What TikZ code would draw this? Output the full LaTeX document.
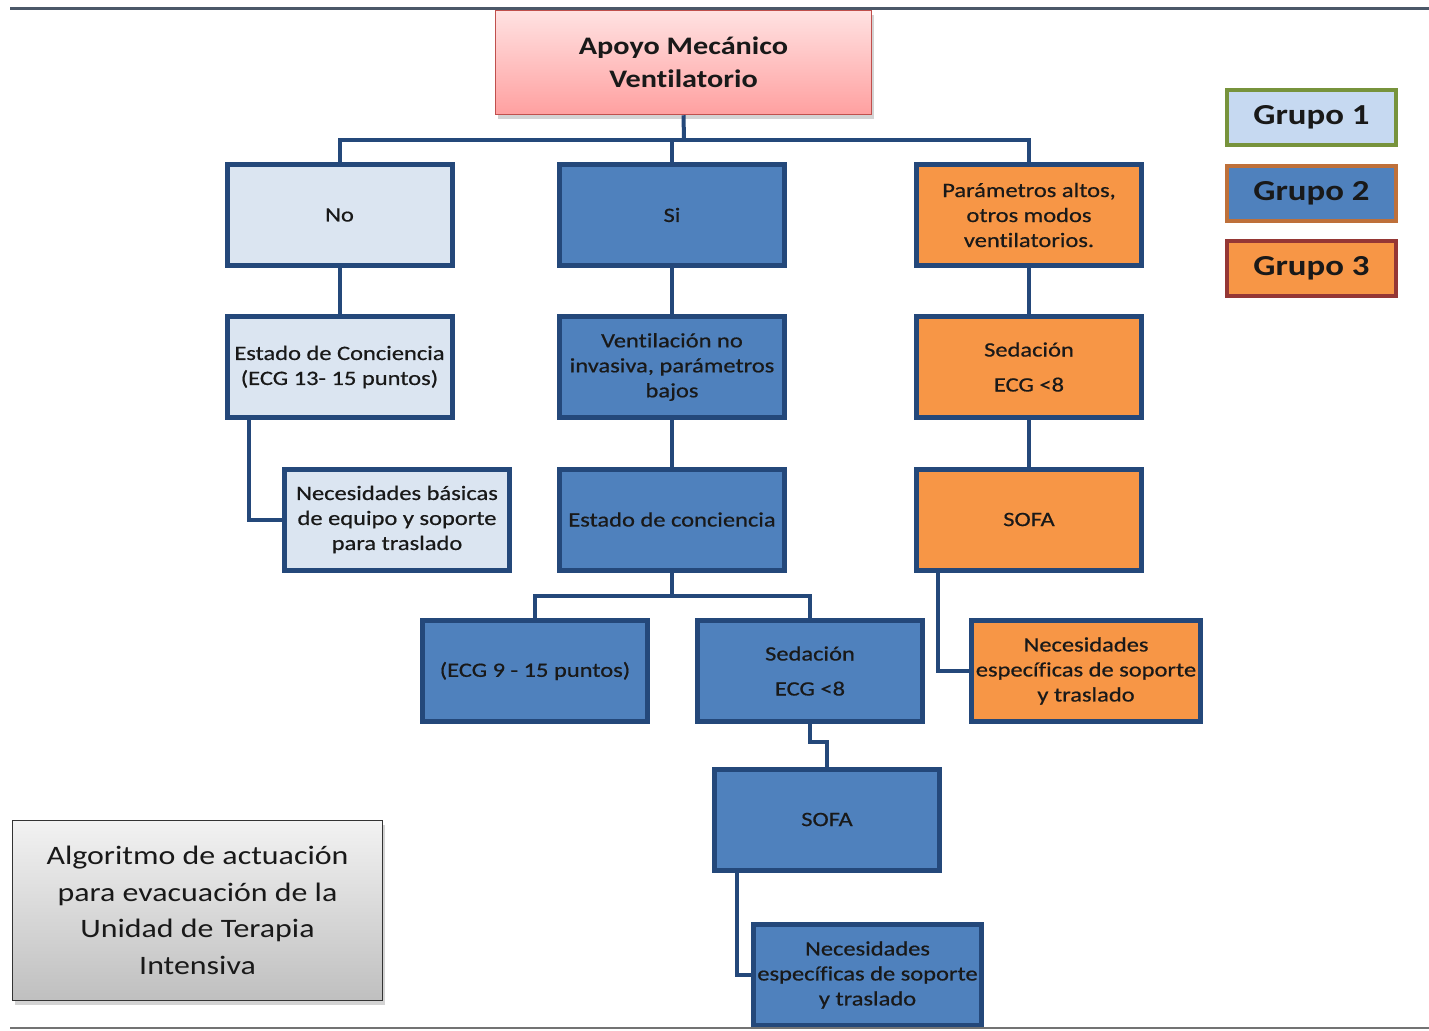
\documentclass[tikz,border=0pt]{standalone}
\usepackage{fontspec}
\setmainfont{Carlito}[FakeStretch=1.2, Ligatures=NoCommon]
\newfontfamily\boxfont{Carlito}[FakeStretch=1.2, FakeBold=0.6, Ligatures=NoCommon]
\usetikzlibrary{shadows}
\definecolor{bord}{RGB}{36,72,122}
\definecolor{light}{RGB}{219,229,241}
\definecolor{midblue}{RGB}{79,129,189}
\definecolor{orng}{RGB}{247,150,70}
\definecolor{txt}{RGB}{25,25,25}
\definecolor{rootbd}{RGB}{192,80,77}
\definecolor{roottop}{RGB}{255,226,226}
\definecolor{rootbot}{RGB}{255,160,160}
\definecolor{legone}{RGB}{198,217,241}
\definecolor{legonebd}{RGB}{119,147,60}
\definecolor{legtwobd}{RGB}{190,112,58}
\definecolor{legthreebd}{RGB}{149,55,53}
\definecolor{topln}{RGB}{75,88,104}
\begin{document}
\begin{tikzpicture}[x=0.5pt,y=-0.5pt,
  bx/.style={draw=bord, line width=2.5pt, minimum width=112.5pt, minimum height=50.5pt,
    align=center, inner sep=2pt, text=txt, font=\boxfont\fontsize{10.2pt}{12.5pt}\selectfont},
  gone/.style={bx, fill=light},
  gtwo/.style={bx, fill=midblue},
  gthree/.style={bx, fill=orng},
  conn/.style={draw=bord, line width=2pt},
  leg/.style={line width=2pt, minimum width=84.5pt, minimum height=27.5pt, text=txt,
    font=\bfseries\fontsize{14.5pt}{17pt}\selectfont},
]
\useasboundingbox (0,0) rectangle (1429,1030);
\draw[topln, line width=1.5pt] (10,8) -- (1429,8);

% root
\node[draw=rootbd, line width=0.75pt, top color=roottop, bottom color=rootbot,
  minimum width=188pt, minimum height=52pt, align=center, text=txt,
  font=\bfseries\fontsize{12.6pt}{16.5pt}\selectfont,
  drop shadow={shadow xshift=1pt, shadow yshift=-2pt, opacity=0.35}]
  (root) at (683.5,62.5) {Apoyo Mecánico\\Ventilatorio};

% row 1
\node[gone] (no) at (339.5,215) {No};
\node[gtwo] (si) at (672,215) {Si};
\node[gthree] (par) at (1029,215) {Parámetros altos,\\otros modos\\ventilatorios.};
% row 2
\node[gone] (estc) at (339.5,367) {Estado de Conciencia\\(ECG 13- 15 puntos)};
\node[gtwo] (vent) at (672,367) {Ventilación no\\invasiva, parámetros\\bajos};
\node[gthree] (sedt) at (1029,367) {Sedación\\[5pt]ECG <8};
% row 3
\node[gone] (neca) at (397,519.5) {Necesidades básicas\\de equipo y soporte\\para traslado};
\node[gtwo] (estd) at (672,519.5) {Estado de conciencia};
\node[gthree] (sofat) at (1029,519.5) {SOFA};
% row 4
\node[gtwo] (ecg) at (535,671) {(ECG 9 - 15 puntos)};
\node[gtwo] (sedb) at (810,671) {Sedación\\[5pt]ECG <8};
\node[gthree] (necc) at (1086,671) {Necesidades\\específicas de soporte\\y traslado};
% row 5/6
\node[gtwo] (sofab) at (827,819.5) {SOFA};
\node[gtwo] (necb) at (867.5,975) {Necesidades\\específicas de soporte\\y traslado};

% legend
\node[leg, draw=legonebd, fill=legone] (lga) at (1311.5,117.5) {\raisebox{-1.5pt}{Grupo 1}};
\node[leg, draw=legtwobd, fill=midblue] (lgb) at (1311.5,193.5) {\raisebox{-1.5pt}{Grupo 2}};
\node[leg, draw=legthreebd, fill=orng] (lgc) at (1311.5,268.5) {\raisebox{-1.5pt}{Grupo 3}};

% caption box
\node[draw=black!80, line width=0.75pt, top color=black!5, bottom color=black!25,
  minimum width=185pt, minimum height=90pt, align=center, text=txt,
  font=\fontsize{13.3pt}{18.3pt}\selectfont,
  drop shadow={shadow xshift=1pt, shadow yshift=-2pt, opacity=0.35}]
  (algo) at (197.5,910.5) {Algoritmo de actuación\\para evacuación de la\\Unidad de Terapia\\Intensiva};

% connectors
\coordinate (ja) at (684,140);
\draw[conn] (root.south) -- (ja);
\draw[conn] (no.north) -- (no.north |- ja) -- (par.north |- ja) -- (par.north);
\draw[conn] (si.north) -- (si.north |- ja);
\draw[conn] (no) -- (estc);
\draw[conn] (si) -- (vent);
\draw[conn] (vent) -- (estd);
\draw[conn] (par) -- (sedt);
\draw[conn] (sedt) -- (sofat);
\draw[conn] (249,0 |- estc.south) |- (neca.west);
\coordinate (jb) at (672,596);
\draw[conn] (estd.south) -- (jb);
\draw[conn] (ecg.north) -- (ecg.north |- jb) -- (sedb.north |- jb) -- (sedb.north);
\draw[conn] (938,0 |- sofat.south) |- (necc.west);
\coordinate (jc) at (810,742);
\coordinate (jd) at (827,742);
\draw[conn] (sedb.south) -- (jc) -- (jd) -- (sofab.north);
\draw[conn] (737,0 |- sofab.south) |- (necb.west);

\draw[black!55, line width=0.75pt] (10,1028) -- (1429,1028);
\end{tikzpicture}
\end{document}
